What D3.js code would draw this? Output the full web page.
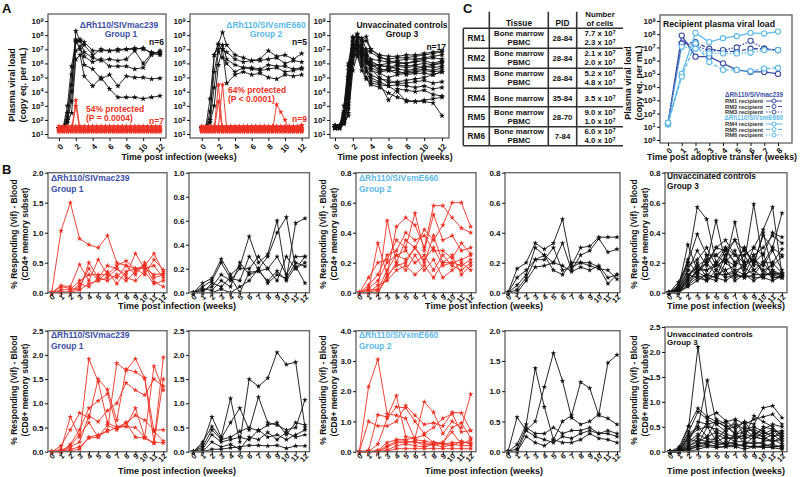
<!DOCTYPE html>
<html><head><meta charset="utf-8">
<script src="https://cdn.jsdelivr.net/npm/d3@7/dist/d3.min.js"></script>
<style>
body{margin:0;background:#fff;}
svg{display:block;}
text{font-family:"Liberation Sans",Arial,Helvetica,sans-serif;font-weight:bold;}
</style></head><body>
<script>
// ================= DATA =================
// Panel A: plasma viral load, log10 copy eq./mL
const weeksA1 = [0,0.5,1,1.5,2,2.5,3,4,5,6,7,8,9,10,11,12];
const g1InfectedLog = [
 [1.4,1.4,2.0,4.0,8.3,7.6,7.3,6.6,7.0,6.9,7.0,7.0,7.0,7.1,6.7,6.6],
 [1.4,1.5,3.0,5.8,7.6,7.7,7.5,6.9,6.9,6.9,6.9,7.0,7.1,7.0,6.8,6.7],
 [1.4,1.4,2.2,5.2,7.5,7.6,6.8,6.4,6.2,6.3,6.2,6.3,6.9,6.0,6.7,6.8],
 [1.4,1.4,2.5,4.5,7.7,7.0,6.5,6.1,6.3,5.8,5.8,5.8,5.6,5.7,6.6,6.9],
 [1.4,1.5,2.0,3.3,6.9,7.2,5.9,5.6,4.9,5.2,4.4,5.1,5.0,5.0,4.9,4.95],
 [1.4,1.4,1.8,2.5,6.3,6.6,5.1,4.4,5.0,4.2,3.6,3.6,3.6,3.5,3.6,3.7]
];
const weeksARed = [0,0.5,1,1.5,2,2.5,3,3.5,4,4.5,5,5.5,6,6.5,7,7.5,8,8.5,9,9.5,10,10.5,11,11.5,12];
const g1ProtectedLog = [
 [1.30,1.30,1.30,1.30,3.40,1.30,1.30,1.30,1.30,1.30,1.30,1.30,1.30,1.30,1.30,1.30,1.30,1.30,1.30,1.30,1.30,1.30,1.30,1.30,1.30],
 [1.20,1.20,1.20,1.20,3.00,1.20,1.20,1.20,1.20,1.20,1.20,1.20,1.20,1.20,1.20,1.20,1.20,1.20,1.20,1.20,1.20,1.20,1.20,1.20,1.20],
 [1.45,1.45,1.45,1.45,1.45,1.45,1.45,1.45,1.45,1.45,1.45,1.45,1.45,1.45,1.45,1.45,1.45,1.45,1.45,1.45,1.45,1.45,1.45,1.45,1.45],
 [1.15,1.15,1.15,1.15,1.15,1.15,1.15,1.15,1.15,1.15,1.15,1.15,1.15,1.15,1.15,1.15,1.15,1.15,1.15,1.15,1.15,1.15,1.15,1.15,1.15],
 [1.55,1.55,1.55,1.55,1.55,1.55,1.55,1.55,1.55,1.55,1.55,1.55,1.55,1.55,1.55,1.55,1.55,1.55,1.55,1.55,1.55,1.55,1.55,1.55,1.55],
 [1.35,1.35,1.35,1.35,1.35,1.35,1.35,1.35,1.35,1.35,1.35,1.35,1.35,1.35,1.35,1.35,1.35,1.35,1.35,1.35,1.35,1.35,1.35,1.35,1.35],
 [1.25,1.25,1.25,1.25,1.25,1.25,1.25,1.25,1.25,1.25,1.25,1.25,1.25,1.25,1.25,1.25,1.25,1.25,1.25,1.25,1.25,1.25,1.25,1.25,1.25]
];
const weeksA2 = [0,0.5,1,1.5,2,2.5,3,4,5,6,7,8,9,10,11,12];
const g2InfectedLog = [
 [1.4,1.4,2.0,6.6,7.4,8.2,7.3,6.6,6.4,6.2,6.3,6.9,6.5,6.6,6.3,6.7],
 [1.4,1.5,3.5,6.6,7.3,7.0,6.8,6.3,6.1,6.2,6.2,6.3,6.4,6.0,6.2,6.1],
 [1.4,1.4,2.6,5.4,7.0,7.3,6.3,5.9,5.7,5.7,5.6,5.9,5.8,5.8,5.6,5.7],
 [1.4,1.5,2.0,4.3,6.8,6.4,6.0,5.4,5.7,5.6,5.5,5.6,5.7,5.4,5.5,5.6],
 [1.5,1.4,1.8,3.0,5.9,7.0,4.6,5.2,5.4,5.2,5.3,5.0,4.9,5.2,5.1,5.2]
];
const g2ProtectedLog = [
 [1.30,1.30,1.30,1.30,4.50,1.30,1.30,1.30,1.30,1.30,1.30,1.30,1.30,1.30,1.30,1.30,1.30,1.30,1.30,1.30,1.30,1.30,1.30,1.30,1.30],
 [1.20,1.20,1.20,1.20,3.30,1.20,1.20,1.20,1.20,1.20,1.20,1.20,1.20,1.20,1.20,1.20,1.20,1.20,1.20,1.20,1.20,1.20,1.20,1.20,1.20],
 [1.40,1.40,1.40,1.40,1.40,4.50,1.40,1.40,1.40,1.40,1.40,1.40,1.40,1.40,1.40,1.40,1.40,1.40,1.40,1.40,1.40,1.40,1.40,1.40,1.40],
 [1.25,1.25,1.25,1.25,1.25,1.25,1.25,1.25,1.25,1.25,1.25,1.25,1.25,1.25,1.25,1.25,1.25,1.25,3.10,2.55,2.00,1.25,1.25,1.25,1.25],
 [1.50,1.50,1.50,1.50,1.50,1.50,1.50,1.50,1.50,1.50,1.50,1.50,1.50,1.50,1.50,1.50,1.50,1.50,1.50,1.50,1.50,1.50,1.50,1.50,1.65],
 [1.15,1.15,1.15,1.15,1.15,1.15,1.15,1.15,1.15,1.15,1.15,1.15,1.15,1.15,1.15,1.15,1.15,1.15,1.15,1.15,1.15,1.15,1.15,1.15,1.15],
 [1.35,1.35,1.35,1.35,1.35,1.35,1.35,1.35,1.35,1.35,1.35,1.35,1.35,1.35,1.35,1.35,1.35,1.35,1.35,1.35,1.35,1.35,1.35,1.35,1.35],
 [1.45,1.45,1.45,1.45,1.45,1.45,1.45,1.45,1.45,1.45,1.45,1.45,1.45,1.45,1.45,1.45,1.45,1.45,1.45,1.45,1.45,1.45,1.45,1.45,1.45],
 [1.55,1.55,1.55,1.55,1.55,1.55,1.55,1.55,1.55,1.55,1.55,1.55,1.55,1.55,1.55,1.55,1.55,1.55,1.55,1.55,1.55,1.55,1.55,1.55,1.55]
];
const weeksA3 = [0,0.5,1,1.5,2,2.5,3,3.5,4,5,6,7,8,9,10,11,12];
const g3ControlLog = [
 [1.5,1.5,2.0,5.0,7.6,8.1,7.5,7.6,7.0,6.6,6.5,6.5,6.6,6.6,6.7,6.8,6.9],
 [1.5,1.6,2.5,5.5,7.8,8.0,7.8,7.0,6.8,6.4,6.3,6.4,6.4,6.5,6.6,6.7,6.8],
 [1.5,1.5,3.0,6.0,7.9,7.5,7.2,6.7,6.3,6.2,6.1,6.2,6.3,6.3,6.4,6.5,6.6],
 [1.6,1.5,2.2,4.5,7.2,7.8,7.6,7.9,7.0,6.5,6.2,6.0,6.0,6.2,6.3,6.4,6.3],
 [1.5,1.4,1.8,3.5,7.0,7.5,6.9,6.5,6.0,5.9,6.0,6.1,6.0,6.1,6.2,6.0,6.2],
 [1.5,1.5,2.6,5.8,7.5,7.2,6.5,6.0,5.8,5.9,5.7,5.9,5.8,5.9,6.0,5.9,6.1],
 [1.6,1.6,2.0,3.0,6.5,7.4,7.0,6.2,5.9,5.5,5.6,5.8,5.7,5.8,5.7,5.9,6.0],
 [1.5,1.5,1.7,2.5,6.0,7.6,7.3,6.8,6.2,5.8,5.8,5.6,5.5,5.6,5.8,5.7,5.8],
 [1.5,1.5,2.4,5.2,7.3,7.0,6.6,6.1,5.7,5.4,5.5,5.3,5.4,5.5,5.6,5.5,5.7],
 [1.4,1.5,2.0,4.0,7.1,7.7,6.8,6.5,5.5,5.3,5.0,5.2,5.3,5.4,5.5,5.4,5.5],
 [1.5,1.4,1.9,3.2,6.8,7.3,7.1,6.6,5.6,5.0,4.6,4.7,4.8,4.9,5.0,5.2,5.4],
 [1.5,1.5,2.2,4.8,7.4,7.1,6.2,5.5,5.2,4.9,4.8,4.6,4.6,4.7,4.8,4.6,4.7],
 [1.6,1.5,2.1,3.8,6.6,7.0,6.4,5.7,5.0,4.7,4.4,4.5,4.4,4.3,4.4,4.2,4.3],
 [1.5,1.5,2.0,2.8,6.2,6.8,6.0,5.4,4.8,4.6,3.4,4.2,4.1,4.0,4.1,3.8,3.7],
 [1.4,1.5,1.8,2.3,5.5,6.6,5.8,5.0,4.5,4.3,3.9,3.6,3.4,3.3,3.3,3.2,2.3],
 [1.5,1.5,2.3,5.0,7.0,6.5,5.5,4.9,4.6,4.5,4.4,4.0,3.3,3.3,3.4,3.5,3.6],
 [1.5,1.6,2.0,4.2,6.9,7.2,6.7,6.3,6.0,5.6,5.5,5.5,5.2,5.3,5.3,5.2,5.4]
];
const weekTicksA = [0,2,4,6,8,10,12];
const logTicksA = [1e1,1e2,1e3,1e4,1e5,1e6,1e7,1e8,1e9];

// Panel C: table + recipient viral load (log10)
const tableIds = ["RM1","RM2","RM3","RM4","RM5","RM6"];
const tableTissue = [["Bone marrow","PBMC"],["Bone marrow","PBMC"],["Bone marrow","PBMC"],["Bone marrow"],["Bone marrow","PBMC"],["Bone marrow","PBMC"]];
const tablePID = ["28-84","28-84","28-84","35-84","28-70","7-84"];
const tableCells = [["7.7","2.3"],["2.1","2.0"],["5.2","4.8"],["3.5"],["9.0","1.0"],["6.0","4.0"]];
const weeksC = [0,1,2,3,4,5,6,7,8];
const recipientNames = ["RM1 recipient","RM2 recipient","RM3 recipient","RM4 recipient","RM5 recipient","RM6 recipient"];
const recipientLog = [
 [1.26,7.9,6.3,6.3,5.8,5.3,5.15,5.15,5.0],
 [1.2,7.3,7.4,6.9,6.7,6.7,6.9,6.9,6.8],
 [1.3,7.3,7.2,6.7,6.8,7.0,7.5,6.9,6.8],
 [1.3,5.0,8.1,7.4,7.7,7.85,8.1,8.05,8.2],
 [1.2,4.8,7.3,5.9,5.3,5.3,5.2,5.4,5.45],
 [1.3,7.05,6.9,6.55,6.55,6.55,6.6,6.8,6.8]
];
const logTicksC = [1e0,1e1,1e2,1e3,1e4,1e5,1e6,1e7,1e8,1e9];

// Panel B: % responding (Vif), weeks 0..12
const weeksB = [0,1,2,3,4,5,6,7,8,9,10,11,12];
const cd4G1Prot = [
 [0,1.03,1.5,0.9,0.8,0.75,0.95,0.5,0.45,0.4,0.4,0.3,0.32],
 [0,0.12,0.1,0.47,0.2,0.55,0.3,0.45,0.53,0.4,0.45,0.65,0.35],
 [0,0.1,0.07,0.05,0.5,0.25,0.45,0.4,0.3,0.65,0.4,0.45,0.25],
 [0,0.05,0.05,0.2,0.3,0.3,0.3,0.25,0.45,0.3,0.5,0.25,0.3],
 [0,0,0,0.05,0.15,0.2,0.25,0.4,0.25,0.2,0.35,0.15,0.2],
 [0,0,0.02,0.1,0.4,0.2,0.35,0.15,0.35,0.4,0.3,0.55,0.38],
 [0,0.02,0,0.15,0.1,0.25,0.2,0.3,0.2,0.35,0.45,0.18,0.1]
];
const cd4G1Inf = [
 [0,0.08,0.12,0.28,0.15,0.22,0.47,0.25,0.32,0.6,0.12,0.58,0.62],
 [0,0.05,0.1,0.25,0.12,0.1,0.3,0.2,0.3,0.5,0.63,0.2,0.25],
 [0,0.02,0.05,0.15,0.1,0.2,0.2,0.3,0.2,0.3,0.15,0.3,0.3],
 [0,0.03,0.02,0.1,0.05,0.25,0.15,0.18,0.2,0.1,0.3,0.2,0.3],
 [0,0,0.08,0.05,0.13,0,0.17,0.18,0.1,0.18,0.1,0.22,0.08],
 [0,0,0,0.03,0,0.05,0.1,0.2,0.08,0.15,0.12,0.25,0.22]
];
const cd4G2Prot = [
 [0,0.02,0.33,0.12,0.44,0.5,0.45,0.3,0.58,0.58,0.5,0.43,0.4],
 [0,0,0.02,0.48,0.2,0.35,0.3,0.42,0.35,0.45,0.6,0.6,0.44],
 [0,0.1,0.2,0.22,0.35,0.3,0.53,0.28,0.52,0.35,0.38,0.28,0.3],
 [0,0.05,0.12,0.25,0.28,0.4,0.35,0.38,0.28,0.28,0.23,0.33,0.26],
 [0,0.03,0.08,0.2,0.25,0.22,0.3,0.2,0.38,0.2,0.2,0.18,0.22],
 [0,0.02,0.02,0.15,0.25,0.28,0.2,0.25,0.15,0.25,0.18,0.15,0.2],
 [0,0,0,0.1,0.2,0.15,0.25,0.15,0.22,0.1,0.15,0.2,0.15],
 [0,0,0.05,0.08,0.15,0.18,0.12,0.18,0.1,0.2,0.25,0.12,0.18],
 [0,0,0,0.12,0.18,0.2,0.3,0.22,0.3,0.18,0.2,0.22,0.25]
];
const cd4G2Inf = [
 [0,0.16,0.2,0.33,0.29,0.33,0.49,0.18,0.3,0.31,0.37,0.37,0.37],
 [0,0.05,0.12,0.3,0.25,0.2,0.33,0.15,0.25,0.28,0.36,0.27,0.29],
 [0,0.02,0.1,0.22,0.22,0.3,0.15,0.17,0.2,0.2,0.17,0.06,0.12],
 [0,0.1,0.15,0.22,0.25,0.15,0.12,0.2,0.2,0.18,0.16,0.15,0.09],
 [0,0,0.08,0.17,0.18,0.2,0.18,0.14,0.17,0.15,0.18,0.1,0.12]
];
const cd4G3 = [
 [0,0.05,0.2,0.57,0.49,0.2,0.3,0.25,0.2,0.59,0.2,0.3,0.25],
 [0,0.03,0.32,0.15,0.2,0.48,0.2,0.47,0.15,0.3,0.42,0.57,0.12],
 [0,0.07,0.2,0.39,0.25,0.25,0.3,0.2,0.3,0.2,0.38,0.3,0.53],
 [0,0.02,0.15,0.28,0.18,0.3,0.35,0.25,0.25,0.3,0.25,0.4,0.37],
 [0,0.04,0.22,0.12,0.25,0.15,0.25,0.35,0.2,0.25,0.3,0.38,0.33],
 [0,0,0.1,0.2,0.1,0.2,0.15,0.18,0.25,0.15,0.2,0.2,0.29],
 [0,0.02,0.15,0.13,0.2,0.12,0.12,0.13,0.1,0.2,0.15,0.18,0.24],
 [0,0,0.08,0.15,0.15,0.2,0.12,0.15,0.17,0.12,0.12,0.12,0.13],
 [0,0.01,0.05,0.1,0.12,0.1,0.25,0.1,0.12,0.1,0.1,0.15,0.12],
 [0,0,0.12,0.1,0.08,0.15,0.1,0.12,0.2,0.22,0.15,0.1,0.11],
 [0,0,0.04,0.08,0.12,0.1,0.08,0.12,0.1,0.12,0.2,0.12,0.1],
 [0,0.03,0.18,0.22,0.3,0.18,0.28,0.2,0.18,0.22,0.18,0.28,0.15],
 [0,0.02,0.06,0.12,0.08,0.12,0.15,0.08,0.12,0.15,0.1,0.08,0.11],
 [0,0,0.1,0.18,0.22,0.25,0.2,0.28,0.12,0.25,0.12,0.2,0.13],
 [0,0.01,0.08,0.14,0.1,0.08,0.2,0.15,0.12,0.08,0.12,0.13,0.12],
 [0,0,0.05,0.15,0.2,0.3,0.28,0.35,0.28,0.2,0.26,0.1,0.1],
 [0,0.02,0.12,0.17,0.15,0.18,0.22,0.18,0.3,0.18,0.4,0.15,0.1]
];
const cd8G1Prot = [
 [0,0.05,0.72,0.3,1.92,1.45,0.6,0.5,0.6,0.75,0.65,0.45,0.45],
 [0,0.12,0.45,0.8,0.7,1.5,1.28,0.65,1.7,1.65,1.52,0.2,0.18],
 [0,0,0.15,0.45,0.9,1.05,1.2,0.52,0.52,0.5,0.3,1.77,1.27],
 [0,0.02,0.12,0.35,0.6,0.3,0.45,1.83,1.68,1.92,1.52,0.42,0.22],
 [0,0,0.05,0.1,0.28,0.3,0.55,0.45,0.6,0.3,0.28,0.17,1.95],
 [0,0,0.1,0.2,0.75,0.62,0.85,1.0,1.42,1.27,1.17,1.5,1.35],
 [0,0,0.02,0.05,0.3,0.35,0.42,0.5,0.52,0.9,0.3,0.18,1.5]
];
const cd8G1Inf = [
 [0,0.15,0.72,0.3,1.1,0.2,1.5,1.35,1.52,2.05,1.8,1.85,0.5],
 [0,0.2,0.52,0.28,0.6,0.9,0.45,1.13,0.6,0.55,0.45,0.5,1.07],
 [0,0.1,0.45,0.25,0.3,0.42,0.5,0.43,0.55,0.6,0.35,0.6,0.55],
 [0,0.05,0.35,0.2,0.25,0.3,0.25,0.45,0.3,0.35,0.25,0.35,0.45],
 [0,0,0.2,0.1,0.15,0.05,0.3,0.25,0.4,0.25,0.4,0.3,0.35],
 [0,0,0.05,0.05,0.08,0.1,0.13,0.13,0.12,0.13,0.07,0.12,0.12]
];
const cd8G2Prot = [
 [0,2.15,3.05,1.25,1.2,1.1,0.4,0.35,0.3,0.25,0.3,0.3,0.3],
 [0,1.0,0.85,0.85,1.0,1.52,1.2,0.9,0.95,0.85,1.3,1.28,0.7],
 [0,0.05,1.22,1.15,1.85,0.5,0.45,1.65,1.3,0.6,1.0,0.8,1.9],
 [0,0,0.25,1.1,1.48,1.45,1.0,0.6,0.8,1.1,1.25,0.65,0.7],
 [0,0,0.05,0.3,0.4,0.4,0.45,0.55,0.3,0.3,0.8,0.95,0.45],
 [0,0,0.02,0.2,0.35,0.35,0.3,0.3,0.2,0.3,0.65,0.25,0.4],
 [0,0,0,0.15,0.3,0.3,0.35,0.2,0.3,0.25,0.2,0.35,0.25],
 [0,0,0,0.05,0.2,0.25,0.2,0.15,0.25,0.15,0.25,0.2,0.2],
 [0,0,0,0.02,0.1,0.1,0.1,0.1,0.1,0.1,0.1,0.1,0.1]
];
const cd8G2Inf = [
 [0,0.57,0.35,0.5,1.07,1.63,1.17,0.56,0.45,0.5,0.62,1.47,1.6],
 [0,0.12,0.45,1.38,0.74,0.2,0.5,0.6,1.15,1.05,0.6,0.55,0.45],
 [0,0.05,0.4,0.3,0.3,0.4,0.3,0.35,0.35,0.4,0.3,0.35,0.3],
 [0,0,0.35,0.25,0.2,0.15,0.25,0.22,0.3,0.35,0.3,0.3,0.25],
 [0,0,0.25,0.15,0.1,0.2,0.15,0.15,0.2,0.3,0.22,0.2,0.15]
];
const cd8G3 = [
 [0,0.05,0.5,2.1,0.7,0.6,0.5,0.55,0.45,0.5,0.4,0.3,0.35],
 [0,0.02,0.3,0.5,1.43,0.55,0.4,0.62,0.3,0.72,0.6,0.5,0.3],
 [0,0.1,0.52,0.87,0.7,0.78,0.62,0.45,0.6,0.55,0.88,0.92,0.68],
 [0,0.05,0.4,0.8,0.65,0.55,0.6,0.65,0.55,0.65,0.7,0.75,0.55],
 [0,0,0.2,0.6,0.55,0.6,0.5,0.35,0.4,0.45,0.35,0.45,0.25],
 [0,0,0.3,0.45,0.5,0.45,0.35,0.3,0.3,0.25,0.4,0.3,0.4],
 [0,0,0.15,0.3,0.6,0.35,0.25,0.3,0.25,0.35,0.3,0.2,0.3],
 [0,0.03,0.25,0.2,0.3,0.4,0.3,0.25,0.35,0.3,0.25,0.35,0.2],
 [0,0,0.1,0.25,0.2,0.2,0.15,0.2,0.2,0.15,0.2,0.25,0.15],
 [0,0,0.05,0.15,0.2,0.15,0.15,0.1,0.15,0.2,0.15,0.1,0.12],
 [0,0,0.12,0.2,0.15,0.1,0.1,0.15,0.1,0.1,0.12,0.15,0.08],
 [0,0,0.05,0.1,0.12,0.12,0.2,0.15,0.12,0.1,0.1,0.08,0.05],
 [0,0,0.08,0.15,0.5,0.2,0.3,0.2,0.45,0.3,0.5,0.45,0.35],
 [0,0.02,0.35,0.5,0.3,0.65,0.55,0.35,0.5,0.4,0.3,0.4,0.42],
 [0,0,0.02,0.12,0.15,0.3,0.12,0.4,0.15,0.3,0.25,0.2,0.25],
 [0,0,0,0.05,0.1,0.08,0.1,0.1,0.05,0.1,0.08,0.1,0.1],
 [0,0.01,0.2,0.35,0.25,0.25,0.45,0.5,0.6,0.35,0.45,0.55,0.5]
];

// ================= DRAWING =================
const RED = "#ee3124", DARK = "#3b4ea6", LIGHT = "#5db9ea", FRAME = "#6b6b6b", INK = "#111";
const svg = d3.select("body").append("svg").attr("width", 800).attr("height", 477);

function frame(l, r, t, b) {
  svg.append("rect").attr("x", l).attr("y", t).attr("width", r - l).attr("height", b - t)
    .attr("fill", "none").attr("stroke", FRAME).attr("stroke-width", 1.4);
}
function label(x, y, s, size, fill, anchor) {
  return svg.append("text").attr("x", x).attr("y", y).attr("font-size", size)
    .attr("fill", fill || INK).attr("text-anchor", anchor || "start").text(s);
}
function vlabel(x, y, s, size) {
  return svg.append("text").attr("transform", `translate(${x},${y}) rotate(-90)`)
    .attr("text-anchor", "middle").attr("dy", "0.35em").attr("font-size", size).attr("fill", INK).text(s);
}
function styleAxis(g, fs) {
  g.attr("font-size", fs || 8);
  g.select(".domain").remove();
  g.selectAll(".tick line").attr("stroke", INK).attr("stroke-width", 1);
  g.selectAll(".tick text").attr("fill", INK);
  return g;
}
function bottomAxis(x, yPos, ticks, fmt, fs, off) {
  const g = svg.append("g").attr("transform", `translate(0,${yPos})`)
    .call(d3.axisBottom(x).tickValues(ticks).tickFormat(fmt).tickSize(3).tickSizeOuter(0));
  styleAxis(g, fs);
  g.selectAll(".tick text").attr("y", 0).attr("dy", "0.35em").attr("text-anchor", "end")
    .attr("transform", `translate(${off[0]},${off[1]}) rotate(-45)`);
  return g;
}
function leftAxis(y, xPos, ticks, fmt, fs) {
  const g = svg.append("g").attr("transform", `translate(${xPos},0)`)
    .call(d3.axisLeft(y).tickValues(ticks).tickFormat(fmt).tickSize(3).tickSizeOuter(0));
  styleAxis(g, fs);
  g.selectAll(".tick text").attr("x", -4.5);
  return g;
}
function supLabels(g) {
  g.selectAll(".tick text").each(function (d) {
    const t = d3.select(this);
    t.text("10");
    t.append("tspan").attr("dy", "-0.45em").attr("font-size", 5.5).text(Math.round(Math.log10(d)));
  });
}
function drawSeries(x, yv, times, sets, color, lw, ms) {
  const line = d3.line().x((d, i) => x(times[i])).y(d => yv(d));
  const sym = d3.symbol(d3.symbolStar, ms);
  sets.forEach(vals => {
    const g = svg.append("g");
    g.append("path").attr("d", line(vals)).attr("fill", "none").attr("stroke", color).attr("stroke-width", lw);
    g.selectAll("path.m").data(vals).join("path").attr("class", "m").attr("d", sym)
      .attr("transform", (d, i) => `translate(${x(times[i])},${yv(d)})`).attr("fill", color);
  });
}

// ---------- Panel A ----------
label(2, 13, "A", 13);
const aY = d3.scaleLog().domain([Math.pow(10, 0.72), Math.pow(10, 9.5)]).range([138, 14]);
const aYv = v => aY(Math.pow(10, v));
const aCharts = [
  { box: [48, 166], xr: [59, 160], black: [weeksA1, g1InfectedLog], red: [weeksARed, g1ProtectedLog] },
  { box: [190, 309], xr: [201.7, 301.7], black: [weeksA2, g2InfectedLog], red: [weeksARed, g2ProtectedLog] },
  { box: [330, 449], xr: [335, 442], black: [weeksA3, g3ControlLog], red: null }
];
aCharts.forEach(c => {
  const x = d3.scaleLinear().domain([0, 12]).range(c.xr);
  drawSeries(x, aYv, c.black[0], c.black[1], INK, 0.9, 11);
  if (c.red) drawSeries(x, aYv, c.red[0], c.red[1], RED, 0.9, 10);
  frame(c.box[0], c.box[1], 14, 138);
  supLabels(leftAxis(aY, c.box[0], logTicksA, d3.format("d"), 8));
  bottomAxis(x, 138, weekTicksA, d3.format("d"), 8, [2.5, 7]);
});
vlabel(12, 85, "Plasma viral load", 9);
vlabel(23, 85, "(copy eq. per mL)", 9);
label(119, 28, "\u0394Rh110/SIVmac239", 8.5, DARK, "middle");
label(121, 37, "Group 1", 8.5, DARK, "middle");
label(164, 45, "n=6", 8.5, INK, "end");
label(86, 112, "54% protected", 8.5, RED);
label(86, 120.5, "(P = 0.0004)", 8.5, RED);
label(164, 124, "n=7", 8.5, RED, "end");
label(266, 28, "\u0394Rh110/SIVsmE660", 8.5, LIGHT, "middle");
label(266, 37, "Group 2", 8.5, LIGHT, "middle");
label(307, 45, "n=5", 8.5, INK, "end");
label(228, 93, "64% protected", 8.5, RED);
label(228, 101.5, "(P < 0.0001)", 8.5, RED);
label(307, 122, "n=9", 8.5, RED, "end");
label(402, 28, "Unvaccinated controls", 8.5, INK, "middle");
label(402, 37, "Group 3", 8.5, INK, "middle");
label(446, 50, "n=17", 8.5, INK, "end");
label(179, 160, "Time post infection (weeks)", 8.8, INK, "middle");
label(395, 160, "Time post infection (weeks)", 8.8, INK, "middle");

// ---------- Panel C ----------
label(463, 13, "C", 13);
const colC = [476.3, 519, 562.5, 600];
const rowEdges = [28.3, 48.3, 68.3, 88.3, 106.7, 126.7, 145.7];
const tg = svg.append("g").attr("stroke", "#333").attr("stroke-width", 1.6);
[489.3, 548.3, 576.7].forEach(xv => tg.append("line").attr("x1", xv).attr("x2", xv).attr("y1", 11.7).attr("y2", 145.7));
tg.append("line").attr("x1", 463.3).attr("x2", 463.3).attr("y1", 28.3).attr("y2", 145.7);
rowEdges.forEach(yv => tg.append("line").attr("x1", 463.3).attr("x2", 623).attr("y1", yv).attr("y2", yv));
const TF = 7.8;
label(colC[1], 25.5, "Tissue", 8.3, INK, "middle");
label(colC[2], 25.5, "PID", 8.3, INK, "middle");
label(colC[3], 16.6, "Number", TF, INK, "middle");
label(colC[3], 25.8, "of cells", TF, INK, "middle");
tableIds.forEach((id, i) => {
  const mid = (rowEdges[i] + rowEdges[i + 1]) / 2;
  label(colC[0], mid + 3, id, 8.3, INK, "middle");
  label(colC[2], mid + 3, tablePID[i], TF, INK, "middle");
  const tis = tableTissue[i];
  const base = tis.length === 2 ? [mid - 1.9, mid + 7] : [mid + 3];
  tis.forEach((s, k) => label(colC[1], base[k], s, TF, INK, "middle"));
  tableCells[i].forEach((s, k) => {
    const t = label(colC[3], base[k], s + " x 10", TF, INK, "middle");
    t.append("tspan").attr("dy", "-0.4em").attr("font-size", 5).text("7");
  });
});
const cX = d3.scaleLinear().domain([0, 8]).range([668, 778]);
const cY = d3.scaleLog().domain([1, 1e9]).range([140, 21]);
const cYv = v => cY(Math.pow(10, v));
const cColors = [DARK, DARK, DARK, LIGHT, LIGHT, LIGHT];
const cDash = [null, "4,2", "1.5,1.5", null, "4,2", "1.5,1.5"];
const cLine = d3.line().x((d, i) => cX(weeksC[i])).y(d => cYv(d));
recipientLog.forEach((vals, k) => {
  const g = svg.append("g");
  g.append("path").attr("d", cLine(vals)).attr("fill", "none").attr("stroke", cColors[k])
    .attr("stroke-width", 1.3).attr("stroke-dasharray", cDash[k]);
  g.selectAll("circle").data(vals).join("circle").attr("cx", (d, i) => cX(weeksC[i])).attr("cy", d => cYv(d))
    .attr("r", 2.6).attr("fill", "#fff").attr("stroke", cColors[k]).attr("stroke-width", 1.1);
});
frame(660, 792, 15, 143);
supLabels(leftAxis(cY, 660, logTicksC, d3.format("d"), 8));
bottomAxis(cX, 143, weeksC, d3.format("d"), 8, [2.5, 6]);
vlabel(628.3, 83, "Plasma viral load", 9);
vlabel(639.3, 83, "(copy eq. per mL)", 9);
label(663, 27, "Recipient plasma viral load", 8.7, INK);
label(722, 160, "Time post adoptive transfer (weeks)", 8.8, INK, "middle");
// legend
const legRows = [
  { y: 97, text: "\u0394Rh110/SIVmac239", color: DARK, k: -1 },
  { y: 103, text: recipientNames[0], k: 0 },
  { y: 108.5, text: recipientNames[1], k: 1 },
  { y: 114, text: recipientNames[2], k: 2 },
  { y: 120, text: "\u0394Rh110/SIVsmE660", color: LIGHT, k: -1 },
  { y: 126, text: recipientNames[3], k: 3 },
  { y: 131.5, text: recipientNames[4], k: 4 },
  { y: 137, text: recipientNames[5], k: 5 }
];
legRows.forEach(r => {
  if (r.k < 0) { label(783, r.y, r.text, 6.3, r.color, "end"); return; }
  label(763, r.y, r.text, 5.8, "#333", "end");
  svg.append("line").attr("x1", 766).attr("x2", 782).attr("y1", r.y - 2).attr("y2", r.y - 2)
    .attr("stroke", cColors[r.k]).attr("stroke-width", 1).attr("stroke-dasharray", cDash[r.k]);
  svg.append("circle").attr("cx", 774).attr("cy", r.y - 2).attr("r", 2).attr("fill", "#fff")
    .attr("stroke", cColors[r.k]).attr("stroke-width", 1);
});

// ---------- Panel B ----------
label(2, 174, "B", 13);
const f1 = d3.format(".1f");
const bRows = [
  { bottom: 292.7, top: 172.7, titleY: 308.5, charts: [
    { box: [48, 167], xr: [51.7, 163.3], max: 2.0, ticks: [0, 0.5, 1, 1.5, 2], data: cd4G1Prot, color: RED },
    { box: [189, 309.5], xr: [193.3, 305], max: 1.0, ticks: [0, 0.2, 0.4, 0.6, 0.8, 1.0], data: cd4G1Inf, color: INK },
    { box: [356, 476], xr: [359.3, 470.7], max: 0.8, ticks: [0, 0.2, 0.4, 0.6, 0.8], data: cd4G2Prot, color: RED },
    { box: [505, 620], xr: [508, 617], max: 0.8, ticks: [0, 0.2, 0.4, 0.6, 0.8], data: cd4G2Inf, color: INK },
    { box: [665, 787], xr: [669, 782], max: 0.8, ticks: [0, 0.2, 0.4, 0.6, 0.8], data: cd4G3, color: INK }
  ]},
  { bottom: 451.7, top: 330.7, titleY: 473.5, charts: [
    { box: [48, 167], xr: [51.7, 163.3], max: 2.5, ticks: [0, 0.5, 1, 1.5, 2, 2.5], data: cd8G1Prot, color: RED },
    { box: [189, 309.5], xr: [193.3, 305], max: 2.5, ticks: [0, 0.5, 1, 1.5, 2, 2.5], data: cd8G1Inf, color: INK },
    { box: [356, 476], xr: [359.3, 470.7], max: 4.0, ticks: [0, 1, 2, 3, 4], data: cd8G2Prot, color: RED },
    { box: [505, 620], xr: [508, 617], max: 2.0, ticks: [0, 0.5, 1, 1.5, 2], data: cd8G2Inf, color: INK },
    { box: [665, 787], xr: [670, 782], max: 2.5, ticks: [0, 0.5, 1, 1.5, 2, 2.5], data: cd8G3, color: INK, top: 327 }
  ]}
];
bRows.forEach(row => {
  row.charts.forEach(c => {
    const top = c.top || row.top;
    const x = d3.scaleLinear().domain([0, 12]).range(c.xr);
    const y = d3.scaleLinear().domain([0, c.max]).range([row.bottom, top]);
    drawSeries(x, y, weeksB, c.data, c.color, 0.9, 9);
    frame(c.box[0], c.box[1], top, row.bottom);
    leftAxis(y, c.box[0], c.ticks, f1, 8);
    bottomAxis(x, row.bottom, weeksB, d3.format("d"), 7.5, [1.5, 3]);
  });
  [177, 484, 726].forEach(cx => label(cx, row.titleY, "Time post infection (weeks)", 9, INK, "middle"));
});
// B titles
[[180.7, 191.7], [338.3, 349.3]].forEach(([y1, y2]) => {
  label(51, y1, "\u0394Rh110/SIVmac239", 8.5, DARK);
  label(51, y2, "Group 1", 8.5, DARK);
  label(359, y1, "\u0394Rh110/SIVsmE660", 8.5, LIGHT);
  label(359, y2, "Group 2", 8.5, LIGHT);
});
label(667, 178.5, "Unvaccinated controls", 8.3, INK);
label(667, 188.5, "Group 3", 8.3, INK);
label(667, 336.5, "Unvaccinated controls", 8, INK);
label(667, 345, "Group 3", 8, INK);
// B axis titles
[[234, "(CD4+ memory subset)"], [390, "(CD8+ memory subset)"]].forEach(([cy, sub]) => {
  [[14.5, 25.5], [323, 334], [634.5, 645]].forEach(([xa, xb]) => {
    vlabel(xa, cy, "% Responding (Vif) - Blood", 8.5);
    vlabel(xb, cy, sub, 8.5);
  });
});
</script>
</body></html>
